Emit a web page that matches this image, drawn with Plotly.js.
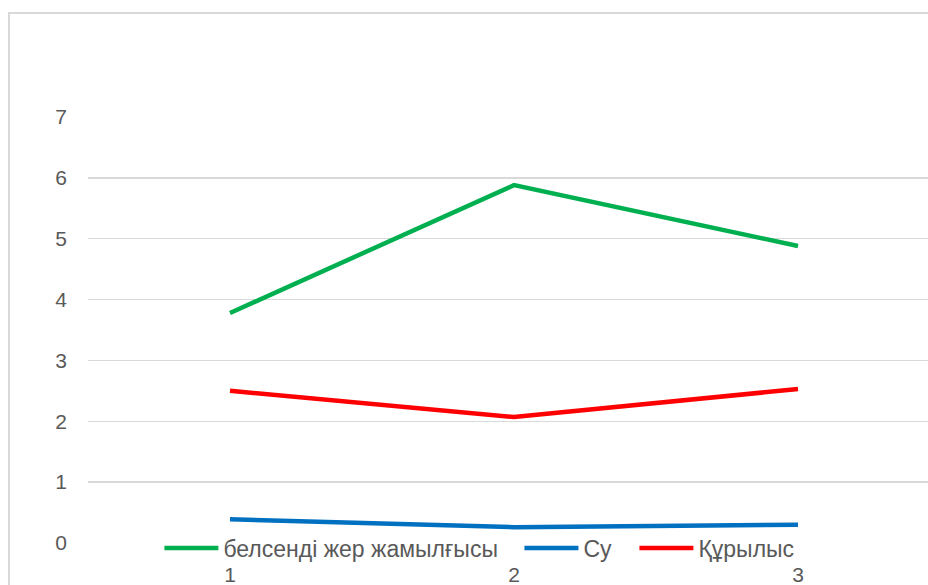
<!DOCTYPE html>
<html>
<head>
<meta charset="utf-8">
<script src="https://cdn.plot.ly/plotly-3.0.1.min.js"></script>
<style>
  html, body { margin: 0; padding: 0; background: #ffffff; }
  #wrap { position: relative; width: 928px; height: 585px; overflow: hidden; }
  #chart { position: absolute; left: 0; top: 0; width: 928px; height: 585px; }
  #frame { position: absolute; left: 8px; top: 12px; width: 940px; height: 600px;
           border-left: 2px solid #D9D9D9; border-top: 2px solid #D9D9D9; pointer-events: none; }
</style>
</head>
<body>
<div id="wrap">
  <div id="chart"></div>
  <div id="frame"></div>
</div>
<script>
const categories = ['1', '2', '3'];
const seriesNames = ['белсенді жер жамылғысы', 'Су', 'Құрылыс'];
const greenValues = [3.78, 5.88, 4.88];
const blueValues = [0.39, 0.26, 0.30];
const redValues = [2.50, 2.07, 2.53];
const yTickValues = [0, 1, 2, 3, 4, 5, 6, 7];

const textColor = '#595959';
const fontFamily = 'Liberation Sans, Arial, sans-serif';
const tickFontSize = 21;
const legendFontSize = 23;

function lineTrace(name, values, color, legendId) {
  return {
    type: 'scatter', mode: 'lines', name: name,
    x: categories, y: values,
    line: { color: color, width: 4.5 },
    legend: legendId,
    hoverinfo: 'skip'
  };
}

const data = [
  lineTrace(seriesNames[0], greenValues, '#00B050', 'legend'),
  lineTrace(seriesNames[1], blueValues, '#0070C0', 'legend2'),
  lineTrace(seriesNames[2], redValues, '#FF0000', 'legend3')
];

function legendAt(xPos) {
  return {
    orientation: 'h',
    x: xPos, xanchor: 'left',
    y: -0.0117, yanchor: 'middle',
    bgcolor: 'rgba(0,0,0,0)',
    font: { family: fontFamily, size: legendFontSize, color: textColor },
    itemwidth: 54,
    tracegroupgap: 0
  };
}

const layout = {
  width: 928, height: 585,
  margin: { l: 88, r: 0, t: 117, b: 42, pad: 0 },
  paper_bgcolor: 'rgba(0,0,0,0)',
  plot_bgcolor: 'rgba(0,0,0,0)',
  font: { family: fontFamily, size: tickFontSize, color: textColor },
  showlegend: true,
  legend: legendAt(0.085),
  legend2: legendAt(0.5136),
  legend3: legendAt(0.6505),
  xaxis: {
    type: 'category',
    range: [-0.5, -0.5 + 840 / 284],
    showgrid: false, zeroline: false, showline: false,
    ticks: '',
    tickfont: { family: fontFamily, size: tickFontSize, color: textColor },
    ticklabelstandoff: 17,
    fixedrange: true
  },
  yaxis: {
    range: [0, 7],
    tickvals: yTickValues,
    showgrid: true, gridcolor: '#D9D9D9', gridwidth: 1.5,
    zeroline: false, showline: false,
    ticks: '',
    tickfont: { family: fontFamily, size: tickFontSize, color: textColor },
    ticklabelstandoff: 20,
    fixedrange: true
  }
};

Plotly.newPlot('chart', data, layout, { displayModeBar: false, staticPlot: true });
</script>
</body>
</html>
